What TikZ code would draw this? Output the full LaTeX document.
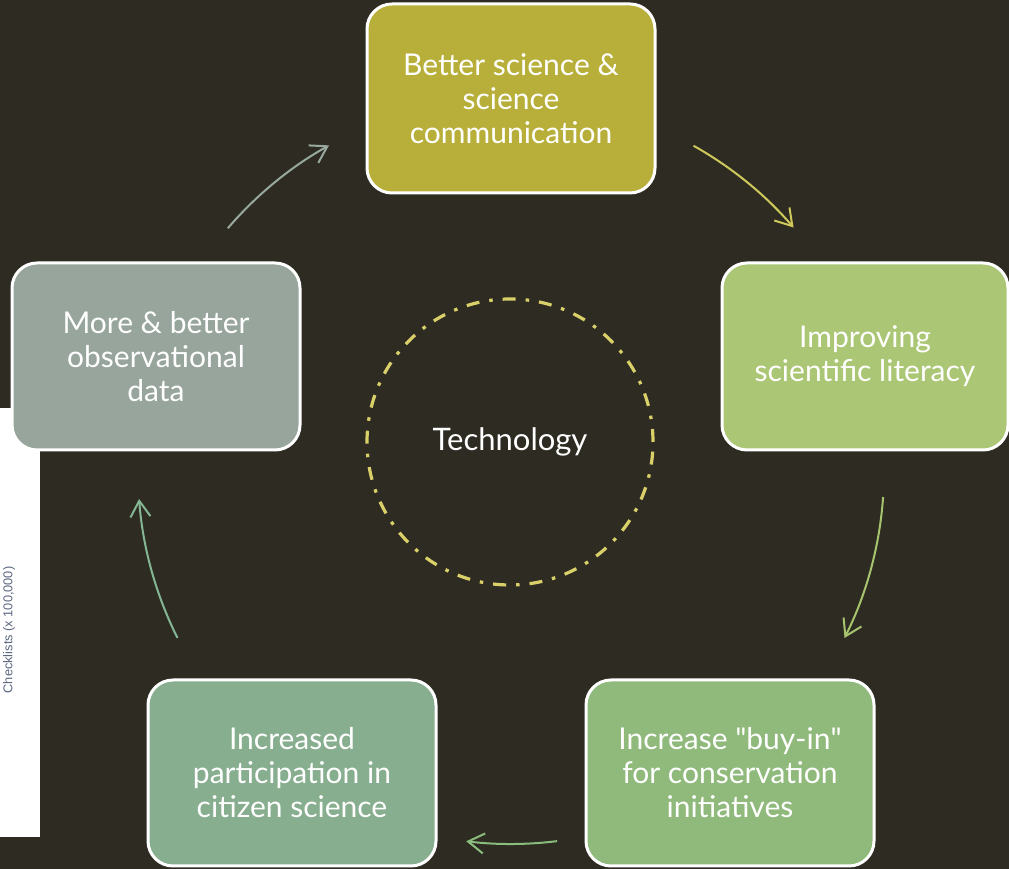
\documentclass[tikz,border=0pt]{standalone}
\usepackage{fontspec}
\setmainfont{Lato}
\newfontfamily\chartfont{Liberation Sans}
\usetikzlibrary{arrows.meta}
\definecolor{bg}{HTML}{2E2C22}
\definecolor{cTop}{HTML}{B8AF3A}
\definecolor{cRight}{HTML}{ABC674}
\definecolor{cBR}{HTML}{90BA7C}
\definecolor{cBL}{HTML}{87AE8F}
\definecolor{cLeft}{HTML}{97A59C}
\definecolor{cDash}{HTML}{D9D06A}
\definecolor{aOne}{HTML}{CFC85B}
\definecolor{aTwo}{HTML}{A6C46D}
\definecolor{aThree}{HTML}{8ABC7E}
\definecolor{aFour}{HTML}{84B594}
\definecolor{aFive}{HTML}{97A99E}
\definecolor{chartText}{HTML}{5C6880}
\tikzset{
  cyclebox/.style={draw=white, line width=3pt, rounded corners=25pt, minimum width=288pt, minimum height=187pt, align=center, text=white, inner sep=0pt, font=\fontsize{30}{34}\selectfont},
  cyclearrow/.style={line width=2pt, -{Straight Barb[length=16pt,width=20pt]}},
}
\begin{document}
\begin{tikzpicture}[x=1pt,y=1pt]
\useasboundingbox (0,0) rectangle (1009,869);
\fill[bg] (0,0) rectangle (1009,869);
% partial chart strip at left
\fill[white] (0,32) rectangle (40,461);
\node[rotate=90, text=chartText, font=\chartfont\fontsize{12.8}{14}\selectfont, inner sep=0pt] (axislabel) at (9,239) {Checklists (x 100,000)};
% centre
\coordinate (C) at (511,398);
\node[circle, draw=cDash, line width=3.2pt, dash pattern=on 13pt off 10pt on 3.5pt off 10pt, minimum size=286pt, inner sep=0pt, text=white, font=\fontsize{31}{34}\selectfont] (tech) at (510,427) {Technology};
% boxes
\node[cyclebox, fill=cTop, minimum width=288pt, minimum height=189pt] (top) at (511,770.5) {Better science \&\\science\\communication};
\node[cyclebox, fill=cRight, minimum width=286pt] (right) at (865,512.5) {Improving\\scientific literacy};
\node[cyclebox, fill=cBR, minimum height=186pt] (br) at (730,96) {Increase \textquotedbl buy-in\textquotedbl\\for conservation\\initiatives};
\node[cyclebox, fill=cBL, minimum height=186pt] (bl) at (292,96) {Increased\\participation in\\citizen science};
\node[cyclebox, fill=cLeft] (left) at (156,512.5) {More \& better\\observational\\data};
% arrows on a circle round C
\path (C) ++(60.7:373) coordinate (a1s);
\path (C) ++(-4.0:373) coordinate (a2s);
\path (C) ++(-82.9:373) coordinate (a3s);
\path (C) ++(-153.4:373) coordinate (a4s);
\path (C) ++(139.4:373) coordinate (a5s);
\draw[cyclearrow, aOne] (a1s) arc[start angle=60.7, end angle=40.75, radius=373];
\draw[cyclearrow, aTwo] (a2s) arc[start angle=-4.0, end angle=-26.6, radius=373];
\draw[cyclearrow, aThree] (a3s) arc[start angle=-82.9, end angle=-96.9, radius=373];
\draw[cyclearrow, aFour] (a4s) arc[start angle=-153.4, end angle=-175.7, radius=373];
\draw[cyclearrow, aFive] (a5s) arc[start angle=139.4, end angle=119.2, radius=373];
\end{tikzpicture}
\end{document}
